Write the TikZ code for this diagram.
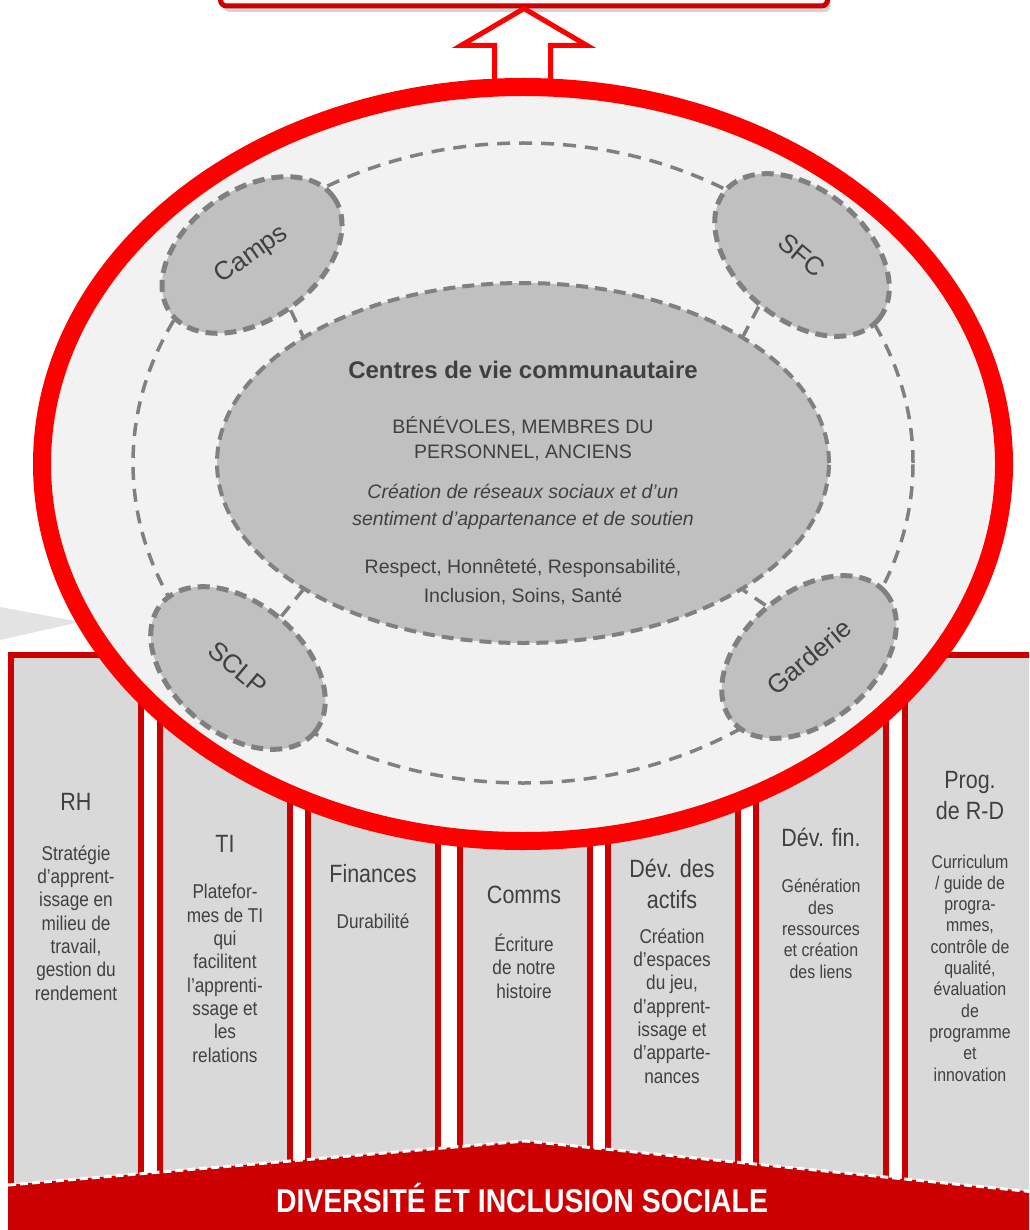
\documentclass[tikz,border=0pt]{standalone}
\usepackage{fontspec}
\setmainfont{Liberation Sans}
\newfontfamily\narrowfont{Liberation Sans}[FakeStretch=0.86]
\usepackage{xcolor}
\usetikzlibrary{shapes,positioning,shadows}

\definecolor{vifred}{HTML}{FF0000}
\definecolor{darkred}{HTML}{CC0000}
\definecolor{ringfill}{HTML}{F2F2F2}
\definecolor{blobgray}{HTML}{C0C0C0}
\definecolor{dashgray}{HTML}{808080}
\definecolor{pillargray}{HTML}{D9D9D9}
\definecolor{wedgegray}{HTML}{E3E3E3}
\definecolor{txtgray}{HTML}{404040}

\begin{document}
\begin{tikzpicture}[x=1pt, y=-1pt,
      pillar/.style={rectangle, draw=darkred, line width=6pt, fill=pillargray, minimum width=130pt, minimum height=600pt, inner sep=0pt},
      pilhead/.style={anchor=base, inner sep=0pt, align=center, text=txtgray, font=\narrowfont\fontsize{25}{31}\selectfont},
      pilbody/.style={anchor=base, inner sep=0pt, align=center, text=txtgray, font=\narrowfont\fontsize{20}{23.3}\selectfont},
      pilsmall/.style={pilbody, font=\narrowfont\fontsize{18.5}{21.3}\selectfont},
      blob/.style={ellipse, draw=dashgray, fill=blobgray, line width=5pt, dash pattern=on 12pt off 7pt, minimum width=200pt, minimum height=130pt, inner sep=0pt, text=txtgray, font=\fontsize{26}{30}\selectfont},
      link/.style={draw=dashgray, line width=3.5pt, dash pattern=on 13pt off 9pt},
      ctext/.style={anchor=base, inner sep=0pt, align=center, text=txtgray},
      fleche/.style={draw=vifred, line width=5pt, fill=white, line join=miter},
      goal/.style={rectangle, rounded corners=6pt, draw=darkred, line width=5pt, fill=red!3, minimum width=607pt, minimum height=72pt, drop shadow={opacity=0.35, shadow xshift=3pt, shadow yshift=-6pt}}
    ]
      \useasboundingbox (0,0) rectangle (1029,1230);
      \clip (0,0) rectangle (1029,1230);

      % Wedge on the left
      \fill[wedgegray] (0,607) -- (80,622) -- (0,640) -- cycle;

      % Pillars
      \node[pillar] (rh) at (76,955) {};
      \node[pillar] (ti) at (225,955) {};
      \node[pillar] (fin) at (373,955) {};
      \node[pillar] (comms) at (525,955) {};
      \node[pillar] (actifs) at (673,955) {};
      \node[pillar] (devfin) at (821,955) {};
      \node[pillar] (rd) at (970,955) {};

      % Pillar texts (placed at the baseline of their last line)
      \node[pilhead] (rhhead) at (76,810) {RH};
      \node[pilbody] (rhbody) at (76,1000) {Stratégie\\d’apprent-\\issage en\\milieu de\\travail,\\gestion du\\rendement};
      \node[pilhead] (tihead) at (225,852) {TI};
      \node[pilbody] (tibody) at (225,1062) {Platefor-\\mes de TI\\qui\\facilitent\\l’apprenti-\\ssage et\\les\\relations};
      \node[pilhead] (finhead) at (373,882) {Finances};
      \node[pilbody] (finbody) at (373,928) {Durabilité};
      \node[pilhead] (commshead) at (524,903) {Comms};
      \node[pilbody] (commsbody) at (524,998) {Écriture\\de notre\\histoire};
      \node[pilhead] (actifshead) at (672,908) {Dév. des\\actifs};
      \node[pilbody] (actifsbody) at (672,1083) {Création\\d’espaces\\du jeu,\\d’apprent-\\issage et\\d’apparte-\\nances};
      \node[pilhead] (devfinhead) at (821,846) {Dév. fin.};
      \node[pilsmall] (devfinbody) at (821,978) {Génération\\des\\ressources\\et création\\des liens};
      \node[pilhead] (rdhead) at (970,819) {Prog.\\de R-D};
      \node[pilsmall] (rdbody) at (970,1081) {Curriculum\\/ guide de\\progra-\\mmes,\\contrôle de\\qualité,\\évaluation\\de\\programme\\et\\innovation};

      % Base banner
      \fill[darkred] (8,1185) -- (525,1141) -- (1035,1192) -- (1035,1240) -- (8,1240) -- cycle;
      \draw[white, line width=3pt, dash pattern=on 8pt off 4pt] (8,1185) -- (525,1141) -- (1035,1192);
      \node[anchor=base, inner sep=0pt, text=white, font=\narrowfont\bfseries\fontsize{33}{36}\selectfont] (socle) at (522,1212) {DIVERSITÉ ET INCLUSION SOCIALE};

      % Top box and arrow
      \node[goal] (goal) at (524,-30) {};
      \draw[fleche] (goal.south) -- ++(63,37) -- ++(-36.5,0) -- ++(0,55) -- ++(-56,0) -- ++(0,-55) -- ++(-33.5,0) -- cycle;

      % Big circle
      \node[ellipse, draw=vifred, line width=18pt, fill=ringfill, minimum width=962pt, minimum height=754pt, inner sep=0pt] (cercle) at (523,464) {};
      \node[ellipse, link, minimum width=780pt, minimum height=640pt, inner sep=0pt] (anneau) at (523,463) {};
      \node[ellipse, draw=dashgray, fill=blobgray, line width=4pt, dash pattern=on 12pt off 7pt, minimum width=612pt, minimum height=360pt, inner sep=0pt] (centre) at (523,463) {};

      % Satellites
      \node[blob, rotate=35] (camps) at (252,255) {Camps};
      \node[blob, rotate=-40] (sfc) at (802,255) {SFC};
      \node[blob, rotate=-40] (sclp) at (238,668) {SCLP};
      \node[blob, rotate=40] (garderie) at (809,657) {Garderie};

      \draw[link] (camps.south) -- (centre.150);
      \draw[link] (sfc.south) -- (centre.30);
      \draw[link] (sclp.north) -- (centre.210);
      \draw[link] (garderie.north) -- (centre.-30);

      % Centre texts
      \node[ctext, font=\bfseries\fontsize{24}{28}\selectfont] (titre) at (523,378) {Centres de vie communautaire};
      \node[ctext, font=\fontsize{19.5}{25}\selectfont] (membres) at (523,458) {BÉNÉVOLES, MEMBRES DU\\PERSONNEL, ANCIENS};
      \node[ctext, font=\itshape\fontsize{19.5}{27}\selectfont] (reseaux) at (523,525) {Création de réseaux sociaux et d’un\\sentiment d’appartenance et de soutien};
      \node[ctext, font=\fontsize{19.5}{29}\selectfont] (valeurs) at (523,602) {Respect, Honnêteté, Responsabilité,\\Inclusion, Soins, Santé};

    \end{tikzpicture}
\end{document}
